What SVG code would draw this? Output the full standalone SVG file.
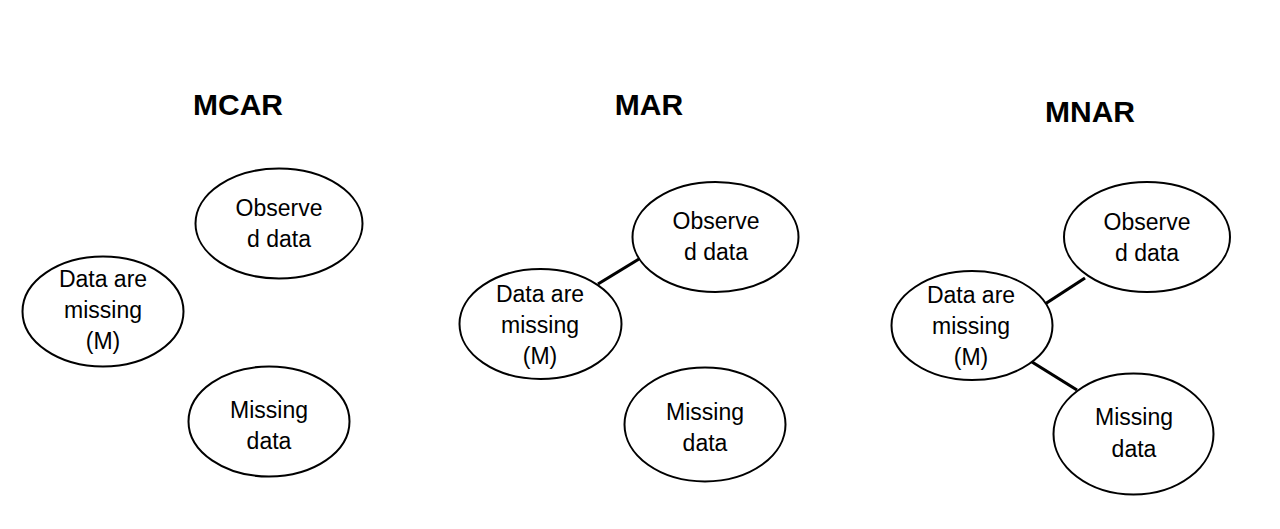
<svg xmlns="http://www.w3.org/2000/svg" width="1280" height="529" viewBox="0 0 1280 529">
<style>
.bg{fill:#ffffff}
.node{fill:#ffffff;stroke:#000000;stroke-width:2}
.lbl{font-family:"Liberation Sans",Arial,sans-serif;font-size:23px;fill:#000000;text-anchor:middle}
.title{font-family:"Liberation Sans",Arial,sans-serif;font-size:30px;font-weight:bold;fill:#000000;text-anchor:middle}
.edge{stroke:#000000;stroke-width:3.2;fill:none}
</style>
<rect class="bg" x="0" y="0" width="1280" height="529"/>
<g id="titles">
<text class="title" x="238" y="115">MCAR</text>
<text class="title" x="649" y="115">MAR</text>
<text class="title" x="1090" y="122">MNAR</text>
</g>
<g id="connectors">
<line class="edge" x1="598" y1="284" x2="639" y2="259"/>
<line class="edge" x1="1045" y1="304" x2="1085" y2="278"/>
<line class="edge" x1="1032" y1="362" x2="1077" y2="390"/>
</g>
<g id="mcar-observed">
<ellipse class="node" cx="279" cy="223.5" rx="83.5" ry="55"/>
<text class="lbl" x="279" y="216">Observe</text>
<text class="lbl" x="279" y="247">d data</text>
</g>
<g id="mcar-m">
<ellipse class="node" cx="103" cy="311.5" rx="80.5" ry="55"/>
<text class="lbl" x="103" y="287">Data are</text>
<text class="lbl" x="103" y="318">missing</text>
<text class="lbl" x="103" y="349">(M)</text>
</g>
<g id="mcar-missing">
<ellipse class="node" cx="269" cy="421.5" rx="80.5" ry="55"/>
<text class="lbl" x="269" y="418">Missing</text>
<text class="lbl" x="269" y="449">data</text>
</g>
<g id="mar-observed">
<ellipse class="node" cx="715.5" cy="237" rx="83" ry="55"/>
<text class="lbl" x="716" y="229">Observe</text>
<text class="lbl" x="716" y="260">d data</text>
</g>
<g id="mar-m">
<ellipse class="node" cx="540.5" cy="324" rx="81" ry="55"/>
<text class="lbl" x="540" y="302">Data are</text>
<text class="lbl" x="540" y="333">missing</text>
<text class="lbl" x="540" y="364">(M)</text>
</g>
<g id="mar-missing">
<ellipse class="node" cx="705" cy="424.5" rx="80.5" ry="57"/>
<text class="lbl" x="705" y="420">Missing</text>
<text class="lbl" x="705" y="451">data</text>
</g>
<g id="mnar-observed">
<ellipse class="node" cx="1147" cy="237" rx="83" ry="55"/>
<text class="lbl" x="1147" y="230">Observe</text>
<text class="lbl" x="1147" y="261">d data</text>
</g>
<g id="mnar-m">
<ellipse class="node" cx="972" cy="325.5" rx="80.5" ry="54.5"/>
<text class="lbl" x="971" y="303">Data are</text>
<text class="lbl" x="971" y="334">missing</text>
<text class="lbl" x="971" y="365">(M)</text>
</g>
<g id="mnar-missing">
<ellipse class="node" cx="1133.5" cy="434" rx="80" ry="60.5"/>
<text class="lbl" x="1134" y="425">Missing</text>
<text class="lbl" x="1134" y="457">data</text>
</g>
</svg>
